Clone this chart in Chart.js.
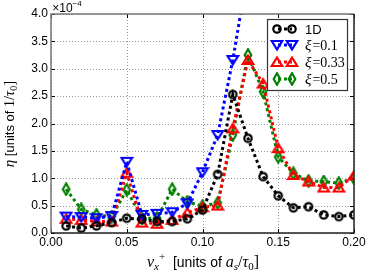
<!DOCTYPE html>
<html><head><meta charset="utf-8">
<script src="https://cdn.jsdelivr.net/npm/chart.js@4/dist/chart.umd.min.js"></script>
<style>html,body{margin:0;padding:0;background:#fff;}#wrap{width:374px;height:280px;position:relative;}</style>
</head><body><div id="wrap"><canvas id="c" width="374" height="280"></canvas></div>
<script>
// ---- data (eta in units of 1e-4 / tau0) ----
const vx = [0.01,0.02,0.03,0.04,0.05,0.06,0.07,0.08,0.09,0.10,0.11,0.12,0.13,0.14,0.15,0.16,0.17,0.18,0.19,0.20];
const seriesNames = ['1D','ξ=0.1','ξ=0.33','ξ=0.5'];
const eta1D    = [0.13,0.09,0.13,0.19,0.27,0.25,0.21,0.21,0.26,0.42,1.07,2.53,1.73,1.03,0.68,0.46,0.48,0.33,0.30,0.33];
const etaXi01  = [0.30,0.29,0.27,0.31,1.30,0.33,0.35,0.38,0.54,1.11,1.79,3.16,4.80];
const etaXi033 = [0.26,0.24,0.21,0.21,1.10,0.19,0.17,0.24,0.37,0.47,0.50,1.91,3.16,2.73,1.55,1.06,0.94,0.83,0.83,1.05];
const etaXi05  = [0.80,0.43,0.33,0.30,0.79,0.27,0.27,0.80,0.57,0.49,0.55,1.79,3.25,2.58,1.39,1.09,0.95,0.94,0.91,1.00];
const xTicks = [0.00,0.05,0.10,0.15,0.20];
const yTicks = [0.0,0.5,1.0,1.5,2.0,2.5,3.0,3.5,4.0];

function pts(ys){ return ys.map((y,i)=>({x:vx[i], y:y})); }

function marker(kind, color){
  const c = document.createElement('canvas');
  c.width = 14; c.height = 14;
  const g = c.getContext('2d');
  g.strokeStyle = color; g.lineWidth = 2.2; g.lineJoin = 'miter';
  g.beginPath();
  if (kind === 'circle') { g.arc(7,7,3.7,0,Math.PI*2); }
  else if (kind === 'down') { g.moveTo(1.8,3); g.lineTo(12.2,3); g.lineTo(7,11.5); g.closePath(); }
  else if (kind === 'up') { g.moveTo(1.8,11); g.lineTo(12.2,11); g.lineTo(7,2.5); g.closePath(); }
  else { g.moveTo(7,1.3); g.lineTo(10.3,7); g.lineTo(7,12.7); g.lineTo(3.7,7); g.closePath(); }
  g.stroke();
  return c;
}
const colors = ['#000000','#0000ff','#ff0000','#008000'];
const kinds = ['circle','down','up','diamond'];
const markers = kinds.map((k,i)=>marker(k,colors[i]));
const allSeries = [eta1D, etaXi01, etaXi033, etaXi05];

const datasets = allSeries.map((s,i)=>({
  label: seriesNames[i],
  data: pts(s),
  borderColor: colors[i],
  backgroundColor: colors[i],
  borderWidth: 3,
  borderDash: [3,3],
  pointStyle: markers[i],
  pointRadius: 5,
  tension: 0,
  fill: false
}));

function drawRuns(ctx, runs, x, y){
  let w = 0;
  runs.forEach(r=>{ ctx.font = r.font; r.w = ctx.measureText(r.t).width; w += r.w; });
  let cx = x - w/2;
  ctx.textBaseline = 'alphabetic'; ctx.textAlign = 'left';
  runs.forEach(r=>{ ctx.font = r.font; ctx.fillText(r.t, cx, y + (r.dy||0)); cx += r.w; });
}

const SANS = '"Liberation Sans", Arial, sans-serif';
const SERIF = '"Liberation Serif", "DejaVu Serif", serif';

const decor = {
  id: 'decor',
  beforeDatasetsDraw(chart){
    const {ctx, chartArea:a, scales} = chart;
    ctx.save();
    // dotted grid
    ctx.strokeStyle = '#999'; ctx.lineWidth = 1; ctx.setLineDash([1,2]);
    ctx.beginPath();
    xTicks.forEach(t=>{ const px = Math.round(scales.x.getPixelForValue(t))+0.5;
      ctx.moveTo(px,a.top); ctx.lineTo(px,a.bottom); });
    yTicks.forEach(t=>{ const py = Math.round(scales.y.getPixelForValue(t))+0.5;
      ctx.moveTo(a.left,py); ctx.lineTo(a.right,py); });
    ctx.stroke();
    ctx.setLineDash([]);
    // inward ticks
    ctx.strokeStyle = '#000'; ctx.lineWidth = 1;
    ctx.beginPath();
    xTicks.forEach(t=>{ const px = Math.round(scales.x.getPixelForValue(t))+0.5;
      ctx.moveTo(px,a.bottom); ctx.lineTo(px,a.bottom-4); ctx.moveTo(px,a.top); ctx.lineTo(px,a.top+4); });
    yTicks.forEach(t=>{ const py = Math.round(scales.y.getPixelForValue(t))+0.5;
      ctx.moveTo(a.left,py); ctx.lineTo(a.left+4,py); ctx.moveTo(a.right,py); ctx.lineTo(a.right-4,py); });
    ctx.stroke();
    ctx.restore();
  },
  afterDraw(chart){
    const {ctx, chartArea:a} = chart;
    ctx.save();
    // frame: top/left grey, bottom/right dark
    ctx.lineWidth = 1.5;
    ctx.strokeStyle = '#777';
    ctx.beginPath(); ctx.moveTo(a.left, a.bottom); ctx.lineTo(a.left, a.top); ctx.lineTo(a.right, a.top); ctx.stroke();
    ctx.strokeStyle = '#222';
    ctx.beginPath(); ctx.moveTo(a.right, a.top); ctx.lineTo(a.right, a.bottom); ctx.lineTo(a.left, a.bottom); ctx.stroke();
    ctx.fillStyle = '#000';
    // x10^-4
    drawRuns(ctx, [
      {t:'×10', font:'12px '+SANS},
      {t:'−4', font:'8px '+SANS, dy:-6}
    ], 67, 12);
    // x title
    drawRuns(ctx, [
      {t:'v', font:'italic 16px '+SERIF},
      {t:'x', font:'italic 11px '+SERIF, dy:3},
      {t:'+', font:'11px '+SERIF, dy:-7},
      {t:'  [units of ', font:'14px '+SANS},
      {t:'a', font:'italic 16px '+SERIF},
      {t:'s', font:'italic 11px '+SERIF, dy:3},
      {t:'/', font:'16px '+SERIF},
      {t:'τ', font:'italic 16px '+SERIF},
      {t:'0', font:'11px '+SERIF, dy:3},
      {t:']', font:'16px '+SERIF}
    ], 203, 267);
    // y title
    ctx.save();
    ctx.translate(14, 124);
    ctx.rotate(-Math.PI/2);
    drawRuns(ctx, [
      {t:'η', font:'italic 15px '+SERIF},
      {t:' [units of ', font:'13px '+SANS},
      {t:'1/', font:'14px '+SERIF},
      {t:'τ', font:'italic 15px '+SERIF},
      {t:'0', font:'10px '+SERIF, dy:3},
      {t:']', font:'15px '+SERIF}
    ], 0, 0);
    ctx.restore();
    // legend
    const L = {x:267, y:19, w:80, h:71};
    ctx.fillStyle = '#fff';
    ctx.fillRect(L.x, L.y, L.w, L.h);
    ctx.lineWidth = 1.2; ctx.strokeStyle = '#333';
    ctx.strokeRect(L.x+0.5, L.y+0.5, L.w, L.h);
    const rows = [29, 45, 62, 79];
    seriesNames.forEach((n,i)=>{
      const ry = rows[i];
      ctx.strokeStyle = colors[i]; ctx.lineWidth = 3; ctx.setLineDash([3,3]);
      ctx.beginPath(); ctx.moveTo(278, ry); ctx.lineTo(292, ry); ctx.stroke();
      ctx.setLineDash([]);
      ctx.drawImage(markers[i], 277-7, ry-7);
      ctx.drawImage(markers[i], 292-7, ry-7);
      ctx.fillStyle = '#000';
      if (i === 0) {
        ctx.font = '13px '+SANS; ctx.textAlign='left'; ctx.textBaseline='middle';
        ctx.fillText('1D', 305, ry+1);
      } else {
        const parts = n.split('=');
        ctx.textBaseline='alphabetic'; ctx.textAlign='left';
        ctx.font = 'italic 15px '+SERIF; let x0 = 305;
        ctx.fillText('ξ', x0, ry+5); x0 += ctx.measureText('ξ').width + 1;
        ctx.font = '14px '+SERIF;
        ctx.fillText('=', x0, ry+5); x0 += ctx.measureText('=').width;
        ctx.fillText(parts[1], x0, ry+5);
      }
    });
    ctx.restore();
  }
};

new Chart(document.getElementById('c'), {
  type: 'line',
  data: { datasets },
  plugins: [decor],
  options: {
    responsive: false,
    animation: false,
    devicePixelRatio: 1,
    layout: { padding: { left: 0, right: 20, top: 14, bottom: 0 } },
    plugins: { legend: { display: false }, tooltip: { enabled: false } },
    scales: {
      x: {
        type: 'linear', min: 0, max: 0.2,
        afterBuildTicks: s => { s.ticks = xTicks.map(v=>({value:v})); },
        afterFit: s => { s.height = 47; },
        ticks: { callback: v => v.toFixed(2), color: '#000', font: { family: SANS, size: 12 }, padding: 2, maxRotation: 0 },
        grid: { display: false, drawTicks: false },
        border: { display: false }
      },
      y: {
        min: 0, max: 4,
        afterBuildTicks: s => { s.ticks = yTicks.map(v=>({value:v})); },
        afterFit: s => { s.width = 51; },
        ticks: { callback: v => v.toFixed(1), color: '#000', font: { family: SANS, size: 12 }, padding: 3 },
        grid: { display: false, drawTicks: false },
        border: { display: false }
      }
    }
  }
});
</script></body></html>
